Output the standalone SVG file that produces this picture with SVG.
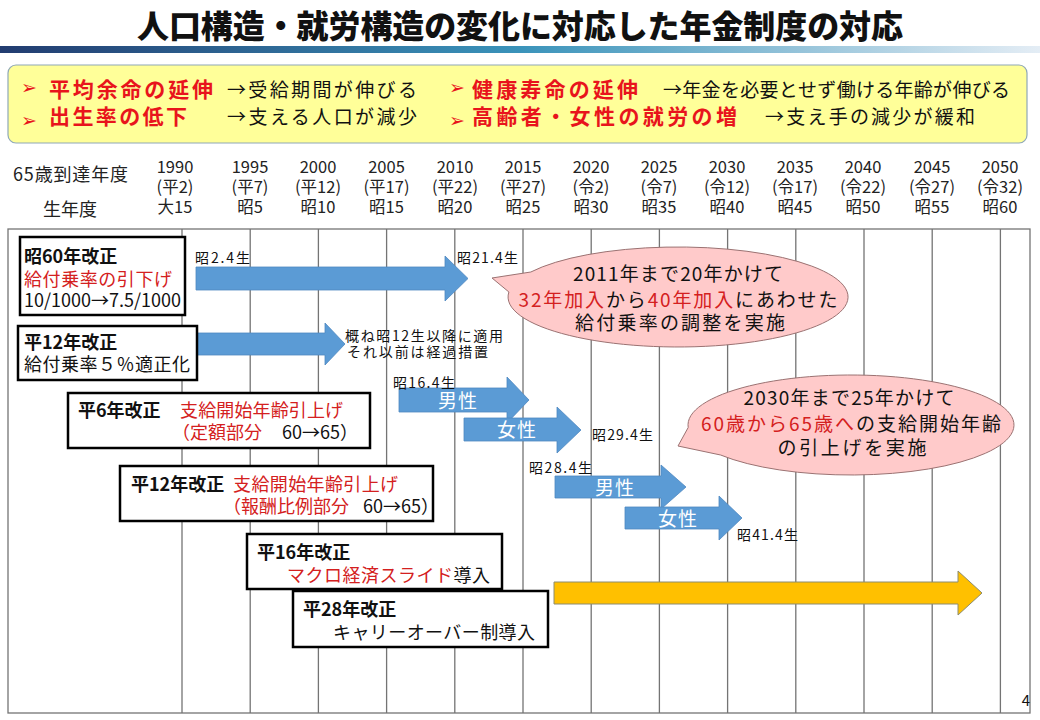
<svg xmlns="http://www.w3.org/2000/svg" width="1040" height="720" viewBox="0 0 1040 720">
<defs>
<linearGradient id="bar" x1="0" y1="0" x2="1" y2="0">
<stop offset="0" stop-color="#223c70"/>
<stop offset="0.5" stop-color="#3a93ba"/>
<stop offset="1" stop-color="#e4edf5"/>
</linearGradient>
<style>
text { font-family: 'Noto Sans CJK JP', 'Noto Sans CJK SC', sans-serif; fill:#111; }
.title { font-size:32px; font-weight:900; text-anchor:middle; }
.sr { font-size:21px; font-weight:bold; fill:#e8141c; }
.sb { font-size:19px; }
.mk { font-family:'DejaVu Sans', sans-serif; font-size:19px; fill:#e8141c; }
.hd { font-size:16.5px; text-anchor:middle; fill:#222; }
.hl { font-size:18px; fill:#222; }
.grid { stroke:#747474; stroke-width:1.3; fill:none; }
.box { fill:#fff; stroke:#000; stroke-width:2.5; }
.bt { font-size:18px; font-weight:bold; }
.bx { font-size:18px; }
.red { fill:#d42020; }
.lbl { font-size:14px; }
.barrow { fill:#5b9bd5; stroke:#4f88c0; stroke-width:0.8; }
.yarrow { fill:#ffc000; stroke:#8c8c70; stroke-width:1; }
.warr { fill:#fff; font-size:19px; text-anchor:middle; letter-spacing:1px; }
.call { fill:#ffcaca; stroke:#9b7272; stroke-width:1; }
.ct { font-size:19px; text-anchor:middle; }
</style>
</defs>
<rect width="1040" height="720" fill="#fff"/>

<g id="title">
<text class="title" x="520" y="38" textLength="766" lengthAdjust="spacing">人口構造・就労構造の変化に対応した年金制度の対応</text>
<rect x="0" y="46" width="1040" height="7" fill="url(#bar)"/>
</g>

<g id="summary">
<rect x="8" y="65" width="1019" height="78" rx="8" fill="#ffff99" stroke="#8fa8b8" stroke-width="1.2"/>
<text class="mk" x="21" y="94">➢</text>
<text class="sr" x="49" y="97" textLength="164" lengthAdjust="spacing">平均余命の延伸</text>
<text class="sb" x="227" y="97" textLength="190" lengthAdjust="spacing">→受給期間が伸びる</text>
<text class="mk" x="449" y="94">➢</text>
<text class="sr" x="472" y="97" textLength="166" lengthAdjust="spacing">健康寿命の延伸</text>
<text class="sb" x="663" y="97" textLength="347" lengthAdjust="spacing">→年金を必要とせず働ける年齢が伸びる</text>
<text class="mk" x="21" y="127">➢</text>
<text class="sr" x="49" y="124" textLength="138" lengthAdjust="spacing">出生率の低下</text>
<text class="sb" x="227" y="124" textLength="190" lengthAdjust="spacing">→支える人口が減少</text>
<text class="mk" x="449" y="127">➢</text>
<text class="sr" x="472" y="124" textLength="265" lengthAdjust="spacing">高齢者・女性の就労の増</text>
<text class="sb" x="765" y="124" textLength="210" lengthAdjust="spacing">→支え手の減少が緩和</text>
</g>

<g id="timeline-header">
<text class="hl" x="13" y="181" textLength="115" lengthAdjust="spacing">65歳到達年度</text>
<text class="hl" x="43" y="216" textLength="54" lengthAdjust="spacing">生年度</text>
<g class="years">
<text class="hd" x="175" y="173">1990</text><text class="hd" x="175" y="193">(平2)</text><text class="hd" x="175" y="213">大15</text>
<text class="hd" x="250" y="173">1995</text><text class="hd" x="250" y="193">(平7)</text><text class="hd" x="250" y="213">昭5</text>
<text class="hd" x="318" y="173">2000</text><text class="hd" x="318" y="193">(平12)</text><text class="hd" x="318" y="213">昭10</text>
<text class="hd" x="386.5" y="173">2005</text><text class="hd" x="386.5" y="193">(平17)</text><text class="hd" x="386.5" y="213">昭15</text>
<text class="hd" x="455" y="173">2010</text><text class="hd" x="455" y="193">(平22)</text><text class="hd" x="455" y="213">昭20</text>
<text class="hd" x="523" y="173">2015</text><text class="hd" x="523" y="193">(平27)</text><text class="hd" x="523" y="213">昭25</text>
<text class="hd" x="591" y="173">2020</text><text class="hd" x="591" y="193">(令2)</text><text class="hd" x="591" y="213">昭30</text>
<text class="hd" x="659" y="173">2025</text><text class="hd" x="659" y="193">(令7)</text><text class="hd" x="659" y="213">昭35</text>
<text class="hd" x="727" y="173">2030</text><text class="hd" x="727" y="193">(令12)</text><text class="hd" x="727" y="213">昭40</text>
<text class="hd" x="795" y="173">2035</text><text class="hd" x="795" y="193">(令17)</text><text class="hd" x="795" y="213">昭45</text>
<text class="hd" x="863" y="173">2040</text><text class="hd" x="863" y="193">(令22)</text><text class="hd" x="863" y="213">昭50</text>
<text class="hd" x="932" y="173">2045</text><text class="hd" x="932" y="193">(令27)</text><text class="hd" x="932" y="213">昭55</text>
<text class="hd" x="1000" y="173">2050</text><text class="hd" x="1000" y="193">(令32)</text><text class="hd" x="1000" y="213">昭60</text>
</g>
</g>

<g id="grid" class="grid">
<rect x="8" y="229" width="1022" height="484"/>
<path d="M182 229V713M250.2 229V713M318.4 229V713M386.6 229V713M454.8 229V713M523 229V713M591.2 229V713M659.4 229V713M727.6 229V713M795.8 229V713M864 229V713M932.2 229V713M1000.4 229V713"/>
</g>

<g id="connectors">
<polygon class="barrow" points="196,267 445,267 445,256 468,278.5 445,301 445,290 196,290"/>
<polygon class="barrow" points="197,333 325,333 325,323 345,344 325,365 325,355 197,355"/>
<polygon class="barrow" points="399,388 507,388 507,377 529,400 507,423 507,412 399,412"/>
<text class="warr" x="458" y="408">男性</text>
<polygon class="barrow" points="464,418 557,418 557,407 581,430 557,453 557,441 464,441"/>
<text class="warr" x="517" y="437">女性</text>
<polygon class="barrow" points="555,476 661,476 661,465 686,487 661,509 661,498 555,498"/>
<text class="warr" x="615" y="495">男性</text>
<polygon class="barrow" points="625,507 719,507 719,496 742,518 719,540 719,529 625,529"/>
<text class="warr" x="678" y="526">女性</text>
<polygon class="yarrow" points="554,582 958,582 958,571 982,593 958,615 958,604 554,604"/>
<text class="lbl" x="195" y="263" textLength="55" lengthAdjust="spacing">昭2.4生</text>
<text class="lbl" x="457" y="263" textLength="61" lengthAdjust="spacing">昭21.4生</text>
<text class="lbl" x="345" y="341" textLength="158" lengthAdjust="spacing">概ね昭12生以降に適用</text>
<text class="lbl" x="347" y="357" textLength="141" lengthAdjust="spacing">それ以前は経過措置</text>
<text class="lbl" x="393" y="388" textLength="62" lengthAdjust="spacing">昭16.4生</text>
<text class="lbl" x="592" y="440" textLength="61" lengthAdjust="spacing">昭29.4生</text>
<text class="lbl" x="529" y="473" textLength="63" lengthAdjust="spacing">昭28.4生</text>
<text class="lbl" x="737" y="540" textLength="61" lengthAdjust="spacing">昭41.4生</text>
</g>

<g id="node-s60">
<rect class="box" x="20" y="237" width="165" height="78"/>
<text class="bt" x="24" y="263">昭60年改正</text>
<text class="bx red" x="24" y="286" textLength="148" lengthAdjust="spacing">給付乗率の引下げ</text>
<text class="bx" x="24" y="307" textLength="157" lengthAdjust="spacing">10/1000→7.5/1000</text>
</g>

<g id="node-h12a">
<rect class="box" x="18" y="326" width="179" height="54"/>
<text class="bt" x="24" y="349">平12年改正</text>
<text class="bx" x="24" y="371" textLength="166" lengthAdjust="spacing">給付乗率５％適正化</text>
</g>

<g id="node-h6">
<rect class="box" x="68" y="393" width="302" height="55"/>
<text class="bt" x="78" y="417">平6年改正</text>
<text class="bx red" x="180" y="417" textLength="163" lengthAdjust="spacing">支給開始年齢引上げ</text>
<text class="bx red" x="172" y="439">（定額部分</text>
<text class="bx" x="282" y="439">60→65）</text>
</g>

<g id="node-h12b">
<rect class="box" x="120" y="466" width="313" height="55"/>
<text class="bt" x="131" y="491">平12年改正</text>
<text class="bx red" x="233" y="491" textLength="165" lengthAdjust="spacing">支給開始年齢引上げ</text>
<text class="bx red" x="223" y="513">（報酬比例部分</text>
<text class="bx" x="363" y="513">60→65）</text>
</g>

<g id="node-h16">
<rect class="box" x="247" y="534" width="255" height="55"/>
<text class="bt" x="257" y="559">平16年改正</text>
<text class="bx" x="287" y="582" textLength="203" lengthAdjust="spacing"><tspan class="red">マクロ経済スライド</tspan>導入</text>
</g>

<g id="node-h28">
<rect class="box" x="293" y="591" width="255" height="56"/>
<text class="bt" x="303" y="616">平28年改正</text>
<text class="bx" x="333" y="639" textLength="202" lengthAdjust="spacing">キャリーオーバー制導入</text>
</g>

<g id="callout-1">
<path class="call" d="M530.8,272 L492,278 L508.9,292 A170 50 0 1 0 530.8,272 Z"/>
<text class="ct" x="678" y="281" textLength="210" lengthAdjust="spacing">2011年まで20年かけて</text>
<text class="ct" x="678" y="307" textLength="319" lengthAdjust="spacing"><tspan class="red">32年加入</tspan>から<tspan class="red">40年加入</tspan>にあわせた</text>
<text class="ct" x="680" y="330" textLength="210" lengthAdjust="spacing">給付乗率の調整を実施</text>
</g>

<g id="callout-2">
<path class="call" d="M688.2,427.5 L678,446 L720.6,455 A163 50 0 1 0 688.2,427.5 Z"/>
<text class="ct" x="849" y="405" textLength="211" lengthAdjust="spacing">2030年まで25年かけて</text>
<text class="ct" x="851" y="431" textLength="300" lengthAdjust="spacing"><tspan class="red">60歳から65歳へ</tspan>の支給開始年齢</text>
<text class="ct" x="852" y="455" textLength="149" lengthAdjust="spacing">の引上げを実施</text>
</g>

<text x="1026" y="706" font-size="15" text-anchor="middle">4</text>
</svg>
